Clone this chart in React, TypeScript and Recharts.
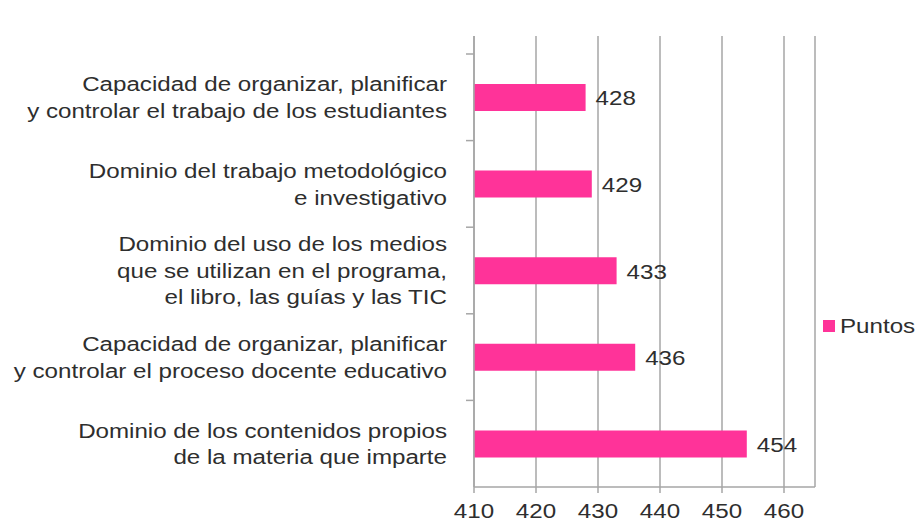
import React from "react";
import { BarChart, Bar, XAxis, YAxis, CartesianGrid, LabelList, Legend } from "recharts";

const categories: string[][] = [
  ["Capacidad de organizar, planificar", "y controlar el trabajo de los estudiantes"],
  ["Dominio del trabajo metodológico", "e investigativo"],
  ["Dominio del uso de los medios", "que se utilizan en el programa,", "el libro, las guías y las TIC"],
  ["Capacidad de organizar, planificar", "y controlar el proceso docente educativo"],
  ["Dominio de los contenidos propios", "de la materia que imparte"],
];
const puntos: number[] = [428, 429, 433, 436, 454];
const xTicks: number[] = [410, 420, 430, 440, 450, 460];
const seriesName = "Puntos";

const data = categories.map((lines, i) => ({ name: lines.join("\n"), value: puntos[i] }));

const FONT = "'Liberation Sans', Arial, sans-serif";
const PINK = "#ff3399";
const GRID = "#a6a6a6";
const TEXT = "#2e2e2e";
const FS = 21;
const SX = 1.15;

const stretch = (x: number) => `translate(${x},0) scale(${SX},1) translate(${-x},0)`;

const YTick = (props: any) => {
  const { x, y, payload } = props;
  const lines: string[] = String(payload.value).split("\n");
  const lh = 26.5;
  const half = payload.offset ?? 43;
  const startY = y - ((lines.length - 1) * lh) / 2;
  return (
    <g>
      <line x1={x + 19} x2={x + 27} y1={y - half} y2={y - half} stroke={GRID} strokeWidth={1.5} />
      <text
        x={x}
        y={startY}
        textAnchor="end"
        fill={TEXT}
        fontSize={FS}
        fontFamily={FONT}
        dominantBaseline="central"
        transform={stretch(x)}
      >
        {lines.map((l, i) => (
          <tspan key={i} x={x} y={startY + i * lh}>
            {l}
          </tspan>
        ))}
      </text>
    </g>
  );
};

const XTick = (props: any) => {
  const { x, y, payload } = props;
  return (
    <text
      x={x}
      y={y + 16}
      textAnchor="middle"
      fill={TEXT}
      fontSize={FS}
      fontFamily={FONT}
      dominantBaseline="central"
      transform={stretch(x)}
    >
      {payload.value}
    </text>
  );
};

const ValueLabel = (props: any) => {
  const { x, y, width, height, value } = props;
  const tx = x + width + 10;
  return (
    <text
      x={tx}
      y={y + height / 2 + 1}
      textAnchor="start"
      fill={TEXT}
      fontSize={FS}
      fontFamily={FONT}
      dominantBaseline="central"
      transform={stretch(tx)}
    >
      {value}
    </text>
  );
};

const LegendContent = () => (
  <div style={{ display: "flex", alignItems: "center", fontFamily: FONT, fontSize: FS, color: TEXT, whiteSpace: "nowrap" }}>
    <span style={{ width: 12, height: 12, background: PINK, display: "inline-block", marginRight: 5, flex: "none" }} />
    <span style={{ display: "inline-block", transform: `scaleX(${SX})`, transformOrigin: "left center" }}>{seriesName}</span>
  </div>
);

export default function App() {
  return (
    <div style={{ position: "absolute", left: 0, top: 0, background: "#fff" }}>
      <BarChart
        width={915}
        height={527}
        data={data}
        layout="vertical"
        margin={{ top: 36, right: 100, bottom: 0, left: 0 }}
      >
        <CartesianGrid horizontal={false} vertical={true} stroke={GRID} strokeWidth={1.5} />
        <XAxis
          type="number"
          domain={[410, 465]}
          ticks={xTicks}
          allowDataOverflow
          height={40}
          axisLine={{ stroke: GRID, strokeWidth: 1.5 }}
          tickLine={{ stroke: GRID, strokeWidth: 1.5 }}
          tickSize={6}
          tickMargin={2}
          tick={<XTick />}
        />
        <YAxis
          type="category"
          dataKey="name"
          width={474}
          padding={{ top: 18, bottom: 0 }}
          axisLine={{ stroke: GRID, strokeWidth: 1.5 }}
          tickLine={false}
          tickSize={8}
          tickMargin={19}
          tick={<YTick />}
          interval={0}
        />
        <Legend
          layout="vertical"
          align="center"
          verticalAlign="middle"
          content={<LegendContent />}
          wrapperStyle={{ position: "absolute", left: 823, top: 314, width: 92 }}
        />
        <Bar dataKey="value" name={seriesName} fill={PINK} barSize={27} isAnimationActive={false}>
          <LabelList dataKey="value" content={<ValueLabel />} />
        </Bar>
      </BarChart>
    </div>
  );
}
